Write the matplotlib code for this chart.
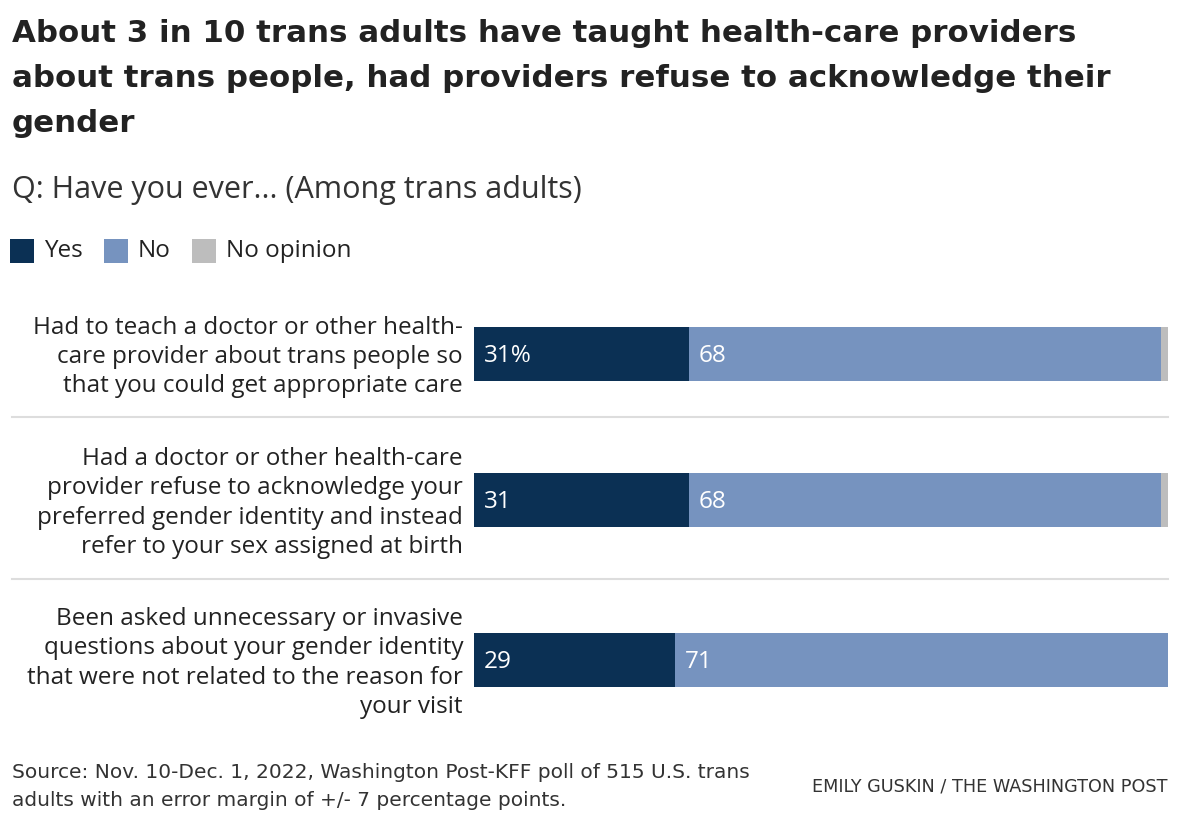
import matplotlib.pyplot as plt
from matplotlib.patches import Rectangle

# data
questions = [
    "Had to teach a doctor or other health-\ncare provider about trans people so\nthat you could get appropriate care",
    "Had a doctor or other health-care\nprovider refuse to acknowledge your\npreferred gender identity and instead\nrefer to your sex assigned at birth",
    "Been asked unnecessary or invasive\nquestions about your gender identity\nthat were not related to the reason for\nyour visit",
]
yes = [31, 31, 29]
no = [68, 68, 71]
no_opinion = [1, 1, 0]
yes_labels = ["31%", "31", "29"]
no_labels = ["68", "68", "71"]

series_names = ["Yes", "No", "No opinion"]
colors = ["#0b3054", "#7693bf", "#bdbdbd"]

plt.rcParams['font.family'] = ['Open Sans', 'DejaVu Sans']

W, H = 1180, 828
fig = plt.figure(figsize=(W / 100, H / 100), dpi=100)

# layout (pixel rows, top-down)
bar_y = [355, 501, 661]
bar_h = 54
sep_y = [418, 580]
x0, x1 = 474, 1168

ax = fig.add_axes([x0 / W, 0, (x1 - x0) / W, 1])
ax.set_xlim(0, 100)
ax.set_ylim(H, 0)
ax.axis('off')

left = [0] * len(yes)
for vals, c in zip([yes, no, no_opinion], colors):
    ax.barh(bar_y, vals, left=left, height=bar_h, color=c, linewidth=0)
    left = [l + v for l, v in zip(left, vals)]

for i in range(len(yes)):
    ax.text(1.4, bar_y[i] + 1, yes_labels[i], color='white', fontsize=17.5,
            va='center', ha='left')
    ax.text(yes[i] + 1.4, bar_y[i] + 1, no_labels[i], color='white', fontsize=17.5,
            va='center', ha='left')

# separators
for y in sep_y:
    fig.add_artist(plt.Line2D([12 / W, x1 / W], [1 - y / H, 1 - y / H],
                              color='#dddddd', lw=1.5))

# question labels
for q, y in zip(questions, bar_y):
    fig.text(463 / W, 1 - (y + 2) / H, q, ha='right', va='center',
             fontsize=17.5, color='#222222', linespacing=1.28)

# title
fig.text(12 / W, 1 - 19 / H,
         "About 3 in 10 trans adults have taught health-care providers\n"
         "about trans people, had providers refuse to acknowledge their\n"
         "gender",
         ha='left', va='top', fontsize=22.2, fontweight='bold', color='#222222',
         family=['DejaVu Sans'], linespacing=1.7)
fig.text(12 / W, 1 - 190 / H, "Q: Have you ever... (Among trans adults)",
         ha='left', va='center', fontsize=22, color='#333333')

# legend
lx = 10
for name, c in zip(series_names, colors):
    fig.add_artist(Rectangle((lx / W, 1 - 264 / H), 24 / W, 24 / H,
                             transform=fig.transFigure, color=c, lw=0))
    t = fig.text((lx + 34) / W, 1 - 251 / H, name, ha='left', va='center',
                 fontsize=17.5, color='#222222')
    fig.canvas.draw()
    bb = t.get_window_extent()
    lx = bb.x1 + 21

# footer
fig.text(12 / W, 1 - 787 / H,
         "Source: Nov. 10-Dec. 1, 2022, Washington Post-KFF poll of 515 U.S. trans\n"
         "adults with an error margin of +/- 7 percentage points.",
         ha='left', va='center', fontsize=14.5, color='#333333',
         family=['DejaVu Sans'], linespacing=1.6)
fig.text(1168 / W, 1 - 787 / H, "EMILY GUSKIN / THE WASHINGTON POST",
         ha='right', va='center', fontsize=12.7, color='#333333',
         family=['DejaVu Sans'])

fig.savefig('out.png', dpi=100)
